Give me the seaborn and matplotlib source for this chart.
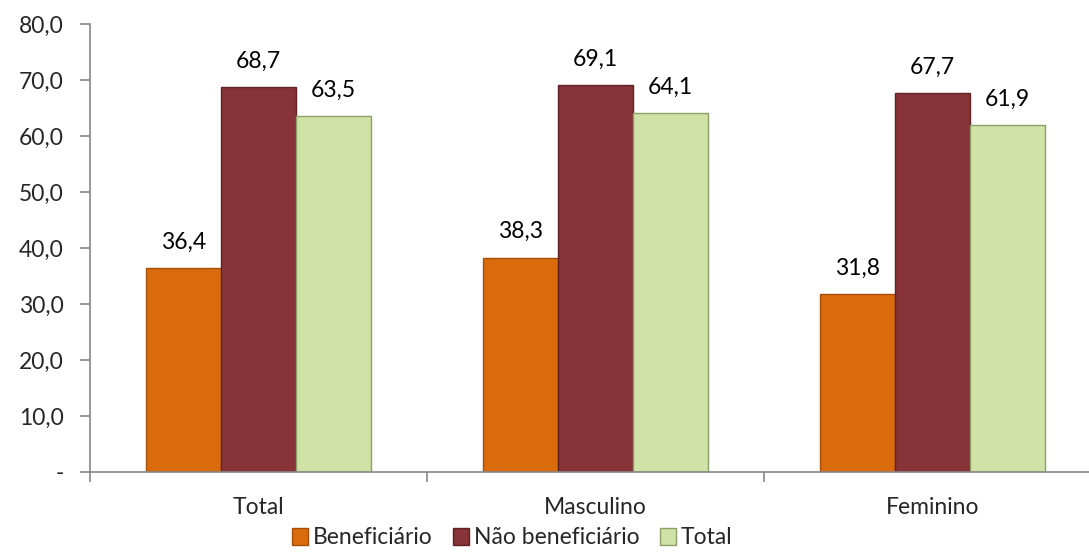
import matplotlib
matplotlib.use("Agg")
import matplotlib.pyplot as plt
import matplotlib.patches as mpatches
from matplotlib.ticker import FixedLocator, FuncFormatter
import seaborn as sns
import pandas as pd

categories = ["Total", "Masculino", "Feminino"]
series = ["Beneficiário", "Não beneficiário", "Total"]
beneficiario = [36.4, 38.3, 31.8]
nao_beneficiario = [68.7, 69.1, 67.7]
total = [63.5, 64.1, 61.9]
colors = ["#D96B0C", "#873337", "#D1E2A6"]
edges = ["#A54F08", "#5E2224", "#8E9F6A"]

rows = []
for name, vals in zip(series, [beneficiario, nao_beneficiario, total]):
    for cat, v in zip(categories, vals):
        rows.append({"grupo": cat, "serie": name, "valor": v})
df = pd.DataFrame(rows)

sns.set_style("white")
plt.rcParams["font.family"] = ["Lato", "DejaVu Sans"]
FS = 16.5

W, H = 1089, 554
fig = plt.figure(figsize=(W / 100, H / 100), dpi=100)
left, right_px, top, bottom = 90, 1089, 24, 472
ax = fig.add_axes([left / W, 1 - bottom / H, (right_px - left) / W, (bottom - top) / H])

sns.barplot(data=df, x="grupo", y="valor", hue="serie", hue_order=series,
            order=categories, palette=colors, width=0.666, gap=0,
            saturation=1, ax=ax, legend=False, errorbar=None)

for container, ec in zip(ax.containers, edges):
    for bar in container:
        bar.set_edgecolor(ec)
        bar.set_linewidth(1.0)
    ax.bar_label(container, labels=[f"{b.get_height():.1f}".replace(".", ",") for b in container],
                 padding=11, fontsize=FS, color="#000000")

ax.set_ylim(0, 80)
ax.set_xlim(-0.5, -0.5 + (right_px - left) / 337)
ax.yaxis.set_major_locator(FixedLocator(range(0, 81, 10)))
ax.yaxis.set_major_formatter(FuncFormatter(lambda v, p: "-" if v == 0 else f"{v:.1f}".replace(".", ",")))
ax.set_xlabel("")
ax.set_ylabel("")

for s in ["top", "right"]:
    ax.spines[s].set_visible(False)
for s in ["left", "bottom"]:
    ax.spines[s].set_color("#888888")
    ax.spines[s].set_linewidth(1.2)

ax.tick_params(axis="y", which="major", direction="out", length=7, width=1.2,
               color="#888888", labelsize=FS, pad=12, left=True)
ax.tick_params(axis="x", which="major", length=0, labelsize=FS, pad=18)
ax.set_xticks(range(len(categories)))
ax.set_xticklabels(categories)
ax.xaxis.set_minor_locator(FixedLocator([-0.5, 0.5, 1.5]))
ax.tick_params(axis="x", which="minor", direction="out", length=7, width=1.2,
               color="#888888", bottom=True)

handles = [mpatches.Patch(facecolor=c, edgecolor=e, label=s) for s, c, e in zip(series, colors, edges)]
fig.legend(handles=handles, loc="center", bbox_to_anchor=(512 / W, 1 - 538 / H), ncol=3,
           frameon=False, fontsize=FS, handlelength=0.7, handleheight=0.7,
           handletextpad=0.2, columnspacing=0.9)

fig.savefig("out.png", dpi=100)
